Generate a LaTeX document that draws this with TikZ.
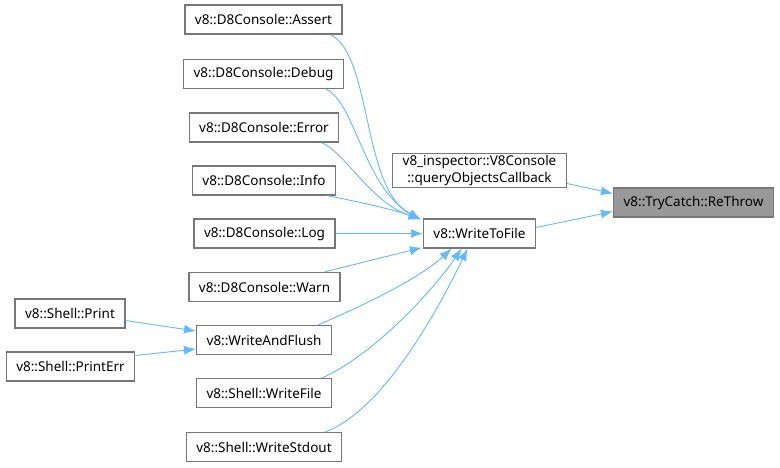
\documentclass[tikz,border=0pt]{standalone}
\usepackage{fontspec}
\setmainfont{Noto Sans}
\usepackage{tikz}
\usetikzlibrary{arrows.meta}

\definecolor{edgeblue}{HTML}{63B8FF}
\definecolor{boxgray}{HTML}{777777}
\definecolor{curfill}{HTML}{999999}

\tikzset{
  fn/.style={draw=boxgray, line width=1.3pt, fill=white, rectangle,
    minimum height=29pt, inner xsep=10pt, inner ysep=2pt,
    font=\fontsize{13.5}{16.5}\selectfont, align=center},
  cur/.style={fn, fill=curfill},
  edge/.style={draw=edgeblue, line width=0.9pt,
    -{Latex[length=12pt,width=9pt]}}
}

\begin{document}
\begin{tikzpicture}[x=1pt, y=-1pt]

        \useasboundingbox (0,0) rectangle (780,467);

        % callers on the left
        \node[fn] (assert) at (263.5,19.5) {v8::D8Console::Assert};
        \node[fn] (debug)  at (263.5,74)   {v8::D8Console::Debug};
        \node[fn] (error)  at (264,127.5)  {v8::D8Console::Error};
        \node[fn] (info)   at (264,180.5)  {v8::D8Console::Info};
        \node[fn] (log)    at (264.5,233.5) {v8::D8Console::Log};
        \node[fn] (warn)   at (264.5,287)  {v8::D8Console::Warn};
        \node[fn] (waf)    at (264,340)    {v8::WriteAndFlush};
        \node[fn] (wfile)  at (264,393)    {v8::Shell::WriteFile};
        \node[fn] (wstd)   at (264,447)    {v8::Shell::WriteStdout};

        \node[fn] (print)    at (70,313.5)  {v8::Shell::Print};
        \node[fn] (printerr) at (70.5,366.5) {v8::Shell::PrintErr};

        % middle and target
        \node[fn] (qoc) at (479.5,170.5) {v8\_inspector::V8Console\\::queryObjectsCallback};
        \node[fn] (wtf) at (479.5,233.5) {v8::WriteToFile};
        \node[cur] (rethrow) at (693.5,202.5) {v8::TryCatch::ReThrow};

        % edges into WriteToFile
        \draw[edge] ([xshift=-12pt]assert.south east) .. controls (372,55) and (362,190) .. ([shift={(-2pt,-1pt)}]wtf.north west);
        \draw[edge] ([xshift=-18pt]debug.south east) .. controls (355,102) and (364,188) .. ([shift={(-2pt,-1pt)}]wtf.north west);
        \draw[edge] ([xshift=-18pt]error.south east) .. controls (345,152) and (370,202) .. ([shift={(-2pt,-1pt)}]wtf.north west);
        \draw[edge] ([xshift=-9pt]info.south east) .. controls (360,202) and (395,210) .. ([shift={(-2pt,-1pt)}]wtf.north west);
        \draw[edge] (log) -- (wtf);
        \draw[edge] ([xshift=-16pt]warn.north east) -- ([shift={(-1pt,1pt)}]wtf.south west);
        \draw[edge] ([xshift=-14pt]waf.north east) .. controls (365,305) and (420,278) .. ([xshift=-28pt]wtf.south);
        \draw[edge] ([xshift=-10pt]wfile.north east) .. controls (372,356) and (432,292) .. ([xshift=-18pt]wtf.south);
        \draw[edge] ([xshift=-17pt]wstd.north east) .. controls (385,410) and (442,302) .. ([xshift=-12pt]wtf.south);

        % edges into WriteAndFlush
        \draw[edge] ([yshift=-7pt]print.east) -- ([yshift=9pt]waf.west);
        \draw[edge] ([yshift=11pt]printerr.east) -- ([yshift=-9pt]waf.west);

        % edges into ReThrow
        \draw[edge] ([yshift=-13pt]qoc.east) -- ([yshift=9pt]rethrow.west);
        \draw[edge] ([yshift=6pt]wtf.east) -- ([yshift=-9pt]rethrow.west);

\end{tikzpicture}
\end{document}
